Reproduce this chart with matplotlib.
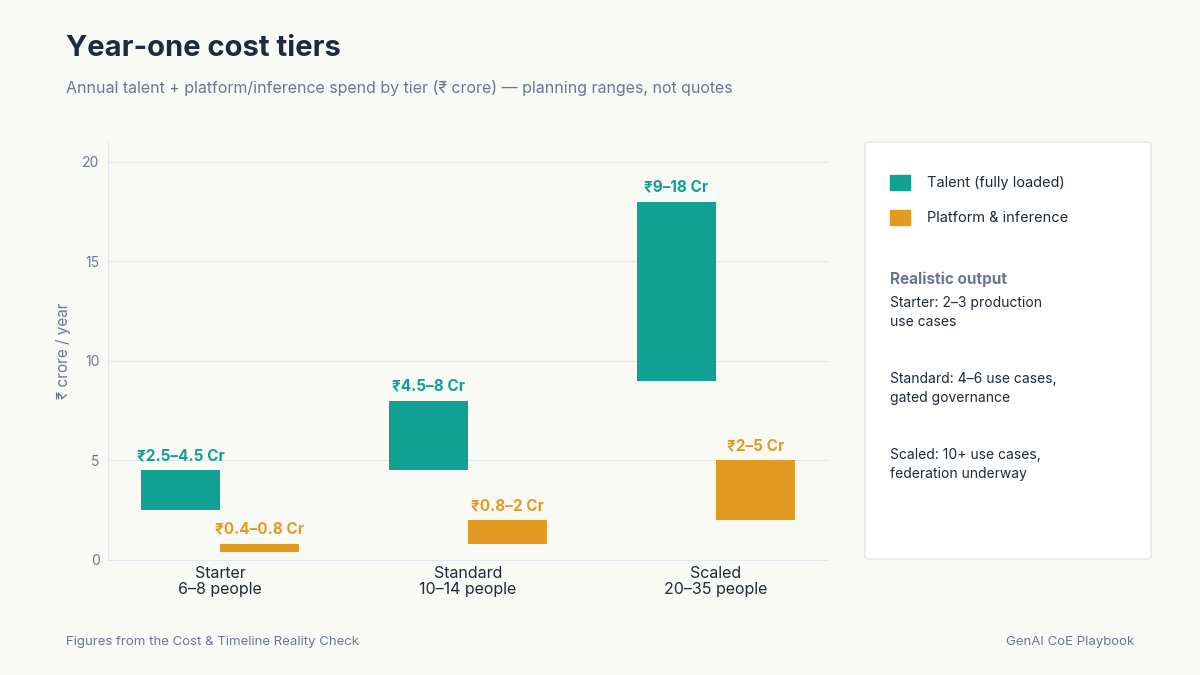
import matplotlib
matplotlib.use("Agg")
import matplotlib.pyplot as plt
from matplotlib.patches import FancyBboxPatch, Rectangle

plt.rcParams['font.family'] = ['Inter', 'DejaVu Sans']

categories = ["Starter\n6–8 people", "Standard\n10–14 people", "Scaled\n20–35 people"]
talent_low = [2.5, 4.5, 9]
talent_high = [4.5, 8, 18]
talent_labels = ["₹2.5–4.5 Cr", "₹4.5–8 Cr", "₹9–18 Cr"]
plat_low = [0.4, 0.8, 2]
plat_high = [0.8, 2, 5]
plat_labels = ["₹0.4–0.8 Cr", "₹0.8–2 Cr", "₹2–5 Cr"]
yticks = [0, 5, 10, 15, 20]

TEAL = "#10a193"
ORANGE = "#e29b20"
BG = "#f9faf6"
DARK = "#1f2a3a"
GREY = "#6b7790"

fig = plt.figure(figsize=(12, 6.75), dpi=100, facecolor=BG)
ax = fig.add_axes([0.09, 0.1704, 0.6, 0.6192])
ax.set_facecolor(BG)

x = list(range(len(categories)))
w = 0.32
off = 0.16
for i in x:
    ax.bar(i - off, talent_high[i] - talent_low[i], bottom=talent_low[i], width=w, color=TEAL, zorder=3)
    ax.text(i - off, talent_high[i] + 0.35, talent_labels[i], ha='center', va='bottom',
            color=TEAL, fontsize=11, fontweight='bold')
    ax.bar(i + off, plat_high[i] - plat_low[i], bottom=plat_low[i], width=w, color=ORANGE, zorder=3)
    ax.text(i + off, plat_high[i] + 0.35, plat_labels[i], ha='center', va='bottom',
            color=ORANGE, fontsize=11, fontweight='bold')

ax.set_xlim(-0.452, 2.452)
ax.set_ylim(0, 21)
ax.set_yticks(yticks)
ax.set_xticks(x)
ax.set_xticklabels(categories, fontsize=11.5, color=DARK, linespacing=1.15)
ax.tick_params(axis='y', colors=GREY, labelsize=10, length=0, pad=6)
ax.tick_params(axis='x', length=0, pad=4)
ax.grid(axis='y', color='#e4e7ee', linewidth=0.8, zorder=0)
for s in ['top', 'right']:
    ax.spines[s].set_visible(False)
for s in ['left', 'bottom']:
    ax.spines[s].set_color('#e4e7ee')
ax.set_ylabel("₹ crore / year", color=GREY, fontsize=11, labelpad=8)

fig.text(0.055, 0.928, "Year-one cost tiers", fontsize=21, fontweight='bold', color=DARK, va='center')
fig.text(0.055, 0.869, "Annual talent + platform/inference spend by tier (₹ crore) — planning ranges, not quotes",
         fontsize=11.5, color=GREY, va='center')
fig.text(0.055, 0.049, "Figures from the Cost & Timeline Reality Check", fontsize=9.5, color=GREY, va='center')
fig.text(0.945, 0.049, "GenAI CoE Playbook", fontsize=9.5, color=GREY, va='center', ha='right')

# legend panel
W, H = 1200, 675
def fx(px): return px / W
def fy(py): return 1 - py / H
panel = FancyBboxPatch((fx(865), fy(559)), fx(1151) - fx(865), fy(142) - fy(559),
                       boxstyle="round,pad=0,rounding_size=0.004", transform=fig.transFigure,
                       facecolor='white', edgecolor='#e3e6ee', linewidth=1)
fig.patches.append(panel)
fig.patches.append(Rectangle((fx(890), fy(190)), fx(20), 15 / H, transform=fig.transFigure, color=TEAL))
fig.patches.append(Rectangle((fx(890), fy(225)), fx(20), 15 / H, transform=fig.transFigure, color=ORANGE))
fig.text(fx(927), fy(183), "Talent (fully loaded)", fontsize=10.5, color=DARK, va='center')
fig.text(fx(927), fy(218), "Platform & inference", fontsize=10.5, color=DARK, va='center')
fig.text(fx(890), fy(279), "Realistic output", fontsize=11, fontweight='bold', color=GREY, va='center')
notes = ["Starter: 2–3 production\nuse cases", "Standard: 4–6 use cases,\ngated governance",
         "Scaled: 10+ use cases,\nfederation underway"]
for k, n in enumerate(notes):
    fig.text(fx(890), fy(296 + 76 * k), n, fontsize=10, color=DARK, va='top', linespacing=1.45)

fig.savefig("out.png", dpi=100, facecolor=BG)
